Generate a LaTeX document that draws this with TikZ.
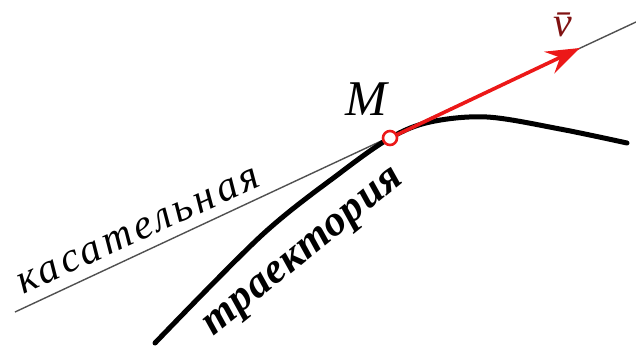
\documentclass[tikz,border=0pt]{standalone}
\usepackage{fontspec}
\setmainfont{Liberation Serif}
\newfontfamily\tanfont[LetterSpace=9]{Liberation Serif}
\newfontfamily\trajfont[LetterSpace=2]{Liberation Serif}
\usepackage{tikz}
\usetikzlibrary{arrows.meta}
\definecolor{VecRed}{RGB}{236,24,24}
\definecolor{LabelRed}{RGB}{128,18,18}
\definecolor{TanGray}{RGB}{80,80,80}

\begin{document}
\begin{tikzpicture}[
  x=1pt, y=-1pt,
  tangent/.style={draw=TanGray, line width=1.4pt},
  traj/.style={draw=black, line width=5pt, line cap=round},
  velocity/.style={draw=VecRed, line width=3.6pt,
                   -{Stealth[length=34pt, width=24pt, inset=12pt]}},
  point/.style={circle, draw=VecRed, fill=white, line width=2.6pt,
                minimum size=14pt, inner sep=0pt},
  lbl/.style={inner sep=0pt, anchor=base}
]
\useasboundingbox (0,0) rectangle (636,349);

% Tangent line and the point of contact.
\coordinate (M) at (390,138);
\coordinate (tanA) at (15,312);
\coordinate (tanB) at (636,22);
\coordinate (vtip) at (580,48);
\draw[tangent] (tanA) -- (tanB);

% Trajectory through M.
\draw[traj] plot[smooth, tension=0.55] coordinates
  {(155,343) (262,235) (340,173) (M)
   (430,122) (487,117) (560,129) (627,143)};

% Velocity vector.
\draw[velocity] (M) -- (vtip);
\node[point] (dot) at (M) {};

% Labels.
\node[lbl, font=\fontsize{50}{50}\selectfont\itshape] (mlab) at (366,115) {M};
\node[lbl, font=\fontsize{42}{42}\selectfont\itshape, text=LabelRed] (vlab)
  at (563,36) {\=v};
\node[lbl, rotate=24.5, font=\tanfont\fontsize{42}{42}\selectfont\itshape]
  (tanlab) at (143,240) {касательная};
\node[lbl, rotate=39, font=\trajfont\fontsize{43}{43}\selectfont\bfseries\itshape]
  (trajlab) at (309,259) {траектория};

\end{tikzpicture}
\end{document}
